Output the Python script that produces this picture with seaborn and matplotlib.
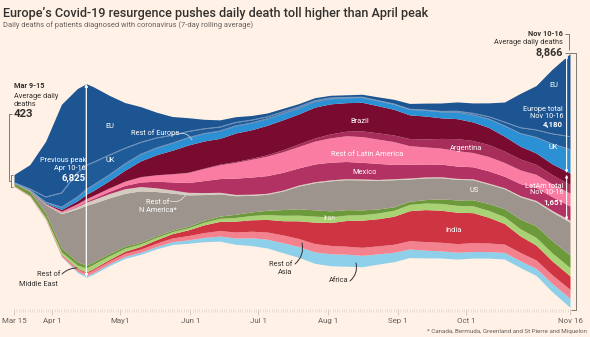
import numpy as np
import pandas as pd
import matplotlib
matplotlib.use("Agg")
import matplotlib.pyplot as plt
import matplotlib.dates as mdates
from matplotlib.lines import Line2D
import seaborn as sns

# ---------------- data (7-day average daily deaths) ----------------
dates = ["2020-03-15", "2020-03-22", "2020-03-29", "2020-04-05", "2020-04-12", "2020-04-16",
         "2020-04-19", "2020-04-26", "2020-05-03", "2020-05-10", "2020-05-17", "2020-05-24",
         "2020-05-31", "2020-06-07", "2020-06-14", "2020-06-21", "2020-06-28", "2020-07-05",
         "2020-07-12", "2020-07-19", "2020-07-26", "2020-08-02", "2020-08-09", "2020-08-16",
         "2020-08-23", "2020-08-30", "2020-09-06", "2020-09-13", "2020-09-20", "2020-09-27",
         "2020-10-04", "2020-10-11", "2020-10-18", "2020-10-25", "2020-11-01", "2020-11-08",
         "2020-11-16"]

eu = [280, 850, 1950, 3100, 2950, 2850, 2650, 2100, 1600, 1250, 900, 650, 480, 330, 250, 200, 160, 130,
      120, 110, 100, 90, 90, 100, 130, 160, 200, 240, 290, 320, 360, 480, 700, 1200, 1550, 2250, 2900]
uk = [5, 35, 180, 500, 850, 850, 800, 700, 550, 420, 350, 280, 220, 170, 140, 120, 100, 70,
      60, 50, 40, 30, 15, 12, 10, 10, 10, 12, 20, 35, 55, 80, 130, 200, 260, 350, 450]
rest_europe = [5, 15, 40, 80, 130, 170, 190, 200, 220, 230, 240, 250, 260, 260, 260, 250, 240, 230,
               220, 200, 190, 180, 170, 170, 170, 180, 190, 200, 210, 230, 250, 300, 370, 450, 550, 700, 830]
brazil = [0, 2, 15, 55, 100, 150, 170, 250, 380, 550, 700, 820, 950, 950, 900, 1000, 1000, 1030,
          1050, 1050, 1080, 1050, 1000, 1000, 950, 900, 830, 800, 720, 700, 650, 600, 520, 450, 400, 380, 400]
argentina = [0, 1, 3, 6, 6, 6, 6, 8, 8, 8, 8, 10, 12, 15, 25, 30, 35, 50,
             70, 90, 110, 140, 160, 200, 220, 230, 250, 280, 340, 420, 420, 420, 400, 380, 350, 320, 300]
rest_latam = [0, 2, 15, 40, 70, 80, 90, 110, 140, 180, 220, 280, 350, 420, 480, 550, 620, 680,
              720, 750, 800, 850, 900, 900, 850, 800, 650, 600, 560, 540, 500, 500, 480, 480, 460, 450, 450]
mexico = [0, 0, 3, 10, 25, 40, 50, 80, 120, 160, 230, 280, 340, 420, 480, 570, 600, 620,
          620, 600, 620, 620, 600, 580, 560, 500, 480, 450, 440, 430, 420, 430, 400, 420, 450, 480, 500]
rest_namerica = [1, 3, 15, 40, 80, 110, 130, 150, 160, 150, 130, 110, 90, 70, 55, 45, 40, 35,
                 35, 35, 35, 35, 35, 35, 35, 35, 35, 35, 35, 35, 35, 35, 35, 40, 45, 55, 70]
us = [8, 40, 300, 1200, 1850, 2100, 2050, 1950, 1850, 1800, 1550, 1300, 1100, 900, 780, 650, 580, 560,
      650, 800, 950, 1050, 1050, 1050, 1000, 950, 780, 760, 740, 720, 700, 680, 700, 780, 850, 1000, 1150]
iran = [90, 130, 140, 140, 115, 95, 85, 80, 70, 55, 55, 50, 55, 70, 75, 110, 125, 150,
        200, 220, 220, 210, 190, 170, 140, 120, 110, 120, 160, 190, 210, 240, 280, 340, 400, 430, 440]
rest_mideast = [2, 8, 40, 70, 110, 140, 150, 130, 110, 90, 80, 70, 70, 90, 110, 130, 150, 170,
                190, 200, 210, 200, 190, 190, 200, 210, 220, 230, 240, 240, 240, 240, 240, 250, 270, 280, 290]
india = [0, 1, 3, 10, 25, 35, 40, 50, 70, 95, 120, 150, 200, 270, 320, 380, 400, 440,
         500, 620, 750, 800, 900, 950, 950, 980, 1050, 1120, 1120, 1100, 1050, 900, 720, 580, 520, 490, 470]
rest_asia = [25, 25, 35, 60, 80, 95, 100, 100, 110, 110, 120, 130, 150, 170, 190, 210, 230, 250,
             270, 280, 290, 290, 280, 280, 280, 280, 290, 300, 300, 300, 310, 300, 290, 290, 290, 300, 310]
africa = [1, 4, 12, 25, 45, 55, 60, 65, 70, 75, 80, 100, 120, 150, 180, 220, 270, 310,
          350, 380, 400, 420, 420, 400, 360, 330, 300, 270, 250, 240, 230, 230, 230, 240, 250, 290, 320]

tick_dates = ["2020-03-15", "2020-04-01", "2020-05-01", "2020-06-01", "2020-07-01",
              "2020-08-01", "2020-09-01", "2020-10-01", "2020-11-16"]
tick_labels = ["Mar 15", "Apr 1", "May1", "Jun 1", "Jul 1", "Aug 1", "Sep 1", "Oct 1", "Nov 16"]

# stacking order, bottom to top
layers = [
    ("Africa", africa, "#8ed0e9"),
    ("Rest of Asia", rest_asia, "#f3818e"),
    ("India", india, "#cf3443"),
    ("Rest of Middle East", rest_mideast, "#a9d274"),
    ("Iran", iran, "#6c9a3b"),
    ("US", us, "#9d958d"),
    ("Rest of N America", rest_namerica, "#d4cbc1"),
    ("Mexico", mexico, "#b13263"),
    ("Rest of Latin America", rest_latam, "#fb7ca3"),
    ("Argentina", argentina, "#a72d5b"),
    ("Brazil", brazil, "#790b31"),
    ("Rest of Europe", rest_europe, "#2b90d4"),
    ("UK", uk, "#1f5b99"),
    ("EU", eu, "#1c5592"),
]

# ---------------- style ----------------
BG = "#fff1e5"
sns.set_theme(style="white", rc={"axes.facecolor": BG, "figure.facecolor": BG})
plt.rcParams["font.family"] = ["Roboto", "DejaVu Sans"]

W, H = 590, 337
fig = plt.figure(figsize=(W / 100, H / 100), dpi=100)
fig.patch.set_facecolor(BG)

# axes placed in pixel terms
ax_left, ax_right, ax_top, ax_bot = 14, 570, 45, 308.5
center_px = 180.5
per_px = 35.0
ax = fig.add_axes([ax_left / W, 1 - ax_bot / H, (ax_right - ax_left) / W, (ax_bot - ax_top) / H])
ax.set_facecolor(BG)

x = pd.to_datetime(dates)
ys = np.array([np.array(l[1], dtype=float) for l in layers])
ax.stackplot(x, ys, colors=[l[2] for l in layers], baseline="sym", linewidth=0)

total = ys.sum(axis=0)
cum = np.cumsum(ys, axis=0) - total / 2.0
# light outline of the UK band
idx_uk = [l[0] for l in layers].index("UK")
ax.plot(x, cum[idx_uk], color="#7f9fc4", lw=0.6)
ax.plot(x, cum[idx_uk - 1], color="#7f9fc4", lw=0.6)

ax.set_xlim(x[0], x[-1])
ax.set_ylim(-(ax_bot - center_px) * per_px, (center_px - ax_top) * per_px)
for s in ax.spines.values():
    s.set_visible(False)
ax.set_yticks([])
ax.set_xticks(pd.to_datetime(tick_dates))
ax.set_xticklabels(tick_labels)
ax.xaxis.set_minor_locator(mdates.DayLocator())
ax.tick_params(axis="x", which="major", direction="out", length=4.5, width=0.6,
               color="#cfc3b8", labelsize=5.7, labelcolor="#66605c", pad=2, bottom=True)
ax.tick_params(axis="x", which="minor", direction="out", length=2.2, width=0.4,
               color="#d9cdc2", bottom=True)

# ---------------- helpers ----------------
def T(px, py, s, size=5.2, color="white", ha="center", weight="normal", va="center"):
    fig.text(px / W, 1 - py / H, s, fontsize=size, color=color, ha=ha, va=va,
             fontweight=weight)

def L(pts, color="#807a75", lw=0.7):
    xs = [p[0] / W for p in pts]
    yv = [1 - p[1] / H for p in pts]
    fig.add_artist(Line2D(xs, yv, transform=fig.transFigure, color=color, lw=lw,
                          solid_capstyle="butt"))

def C(p1, p2, color="#4d4845", rad=0.3, lw=0.7):
    ax.annotate("", xy=(p2[0], H - p2[1]), xytext=(p1[0], H - p1[1]),
                xycoords="figure pixels", textcoords="figure pixels",
                arrowprops=dict(arrowstyle="-", color=color, lw=lw, shrinkA=0, shrinkB=0,
                                connectionstyle=f"arc3,rad={rad}"), annotation_clip=False)

DARK = "#33302e"
GREY = "#66605c"

# title
T(3, 13, "Europe\u2019s Covid-19 resurgence pushes daily death toll higher than April peak",
  size=9.1, color=DARK, ha="left", weight="medium")
T(3, 25, "Daily deaths of patients diagnosed with coronavirus (7-day rolling average)",
  size=5.4, color=GREY, ha="left")

# left annotation
T(14, 86, "Mar 9-15", size=5.3, color=DARK, ha="left", weight="bold")
T(14, 96, "Average daily", size=5.3, color=DARK, ha="left")
T(14, 105, "deaths", size=5.3, color=DARK, ha="left")
T(14, 114, "423", size=8.2, color=DARK, ha="left", weight="bold")
L([(12, 114), (8.5, 114), (8.5, 181), (11, 181)])
L([(13, 175), (11, 175), (11, 187), (13, 187)])

# April peak arrow
i_pk = dates.index("2020-04-16")
ax.annotate("", xy=(x[i_pk], total[i_pk] / 2), xytext=(x[i_pk], -total[i_pk] / 2),
            arrowprops=dict(arrowstyle="<|-|>", color="white", lw=0.9, mutation_scale=4,
                            shrinkA=0, shrinkB=0))
T(86, 161, "Previous peak", size=5.3, ha="right")
T(86, 168, "Apr 10-16", size=5.3, ha="right")
T(86, 178, "6,825", size=6.8, ha="right", weight="bold")

# layer labels
T(110, 126, "EU", size=5.3)
T(110, 160, "UK", size=5.3)
T(155, 133, "Rest of Europe", size=5.3)
C((178, 134), (192, 140), color="#c7d6e6", rad=-0.4, lw=0.6)
T(360, 121, "Brazil", size=5.4)
T(367, 154, "Rest of Latin America", size=5.4)
T(365, 172, "Mexico", size=5.4)
T(466, 148, "Argentina", size=5.4)
T(474, 191, "US", size=5.4)
T(329, 218, "Iran", size=5.2, color="#eef3d8")
T(454, 231, "India", size=5.4)
T(158, 203, "Rest of", size=5.3)
T(158, 210, "N America*", size=5.3)
C((170, 201), (186, 194), color="#e8e0d6", rad=0.4, lw=0.6)
T(60, 274, "Rest of", size=5.3, color=DARK, ha="right")
T(58, 284, "Middle East", size=5.3, color=DARK, ha="right")
C((62, 274), (77, 268), color=DARK, rad=-0.2)
T(292, 264, "Rest of", size=5.3, color=DARK, ha="right")
T(292, 273, "Asia", size=5.3, color=DARK, ha="right")
C((295, 264), (302, 243), color=DARK, rad=0.3)
T(339, 280, "Africa", size=5.3, color=DARK)
C((350, 281), (356, 263), color=DARK, rad=0.3)

# right annotation
T(563, 34, "Nov 10-16", size=5.3, color=DARK, ha="right", weight="bold")
T(563, 43, "Average daily deaths", size=5.3, color=DARK, ha="right")
T(563, 53, "8,866", size=7.8, color=DARK, ha="right", weight="bold")
L([(565, 34), (569, 34), (569, 50)])
L([(565, 53), (575.5, 53), (575.5, 310), (571, 310)])

xr = x[-1] - pd.Timedelta(hours=36)
top_r = total[-1] / 2
eur_bot = top_r - (eu[-1] + uk[-1] + rest_europe[-1])
lat_bot = eur_bot - (brazil[-1] + argentina[-1] + rest_latam[-1] + mexico[-1])
ax.annotate("", xy=(xr, top_r), xytext=(xr, eur_bot),
            arrowprops=dict(arrowstyle="<|-|>", color="white", lw=0.8, mutation_scale=3.5,
                            shrinkA=0, shrinkB=1), annotation_clip=False)
ax.annotate("", xy=(xr, eur_bot - 60), xytext=(xr, lat_bot),
            arrowprops=dict(arrowstyle="<|-|>", color="white", lw=0.8, mutation_scale=3.5,
                            shrinkA=0, shrinkB=0), annotation_clip=False)
T(554, 86, "EU", size=5.3)
T(563, 110, "Europe total", size=5.3, ha="right")
T(563, 117, "Nov 10-16", size=5.3, ha="right")
T(563, 125, "4,180", size=5.7, ha="right", weight="bold")
T(553, 147, "UK", size=5.3)
T(563, 186, "LatAm total", size=5.3, ha="right")
T(563, 193, "Nov 10-16", size=5.3, ha="right")
T(563, 202, "1,651", size=5.7, ha="right", weight="bold")

T(587, 331, "* Canada, Bermuda, Greenland and St Pierre and Miquelon", size=4.5,
  color=GREY, ha="right")

fig.savefig("out.png", dpi=100, facecolor=BG)
